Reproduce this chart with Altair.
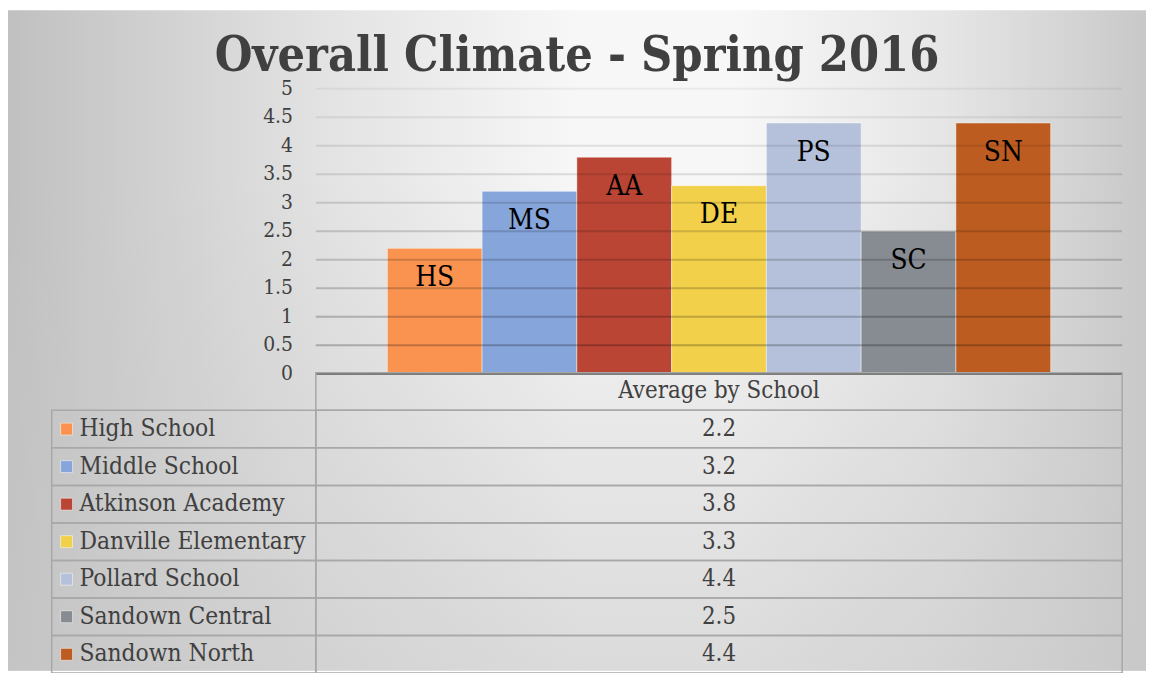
import altair as alt
import pandas as pd

# ---------------- data ----------------
schools = ["High School", "Middle School", "Atkinson Academy", "Danville Elementary",
           "Pollard School", "Sandown Central", "Sandown North"]
abbrev = ["HS", "MS", "AA", "DE", "PS", "SC", "SN"]
values = [2.2, 3.2, 3.8, 3.3, 4.4, 2.5, 4.4]
colors = ["#F9934F", "#86A5DB", "#BA4535", "#F2D04A", "#B5C1DB", "#878B92", "#BD5C20"]
y_ticks = [0, 0.5, 1, 1.5, 2, 2.5, 3, 3.5, 4, 4.5, 5]
series_name = "Average by School"
title_text = "Overall Climate - Spring 2016"

FONT = "DejaVu Serif Condensed, DejaVu Serif"
TXT = "#404040"

W, H = 1146, 586
PAD_TOP = 79

df = pd.DataFrame({"school": schools, "abbr": abbrev, "value": values})
df["label"] = [f"{v:g}" for v in values]
rows = [series_name] + schools
table_df = pd.DataFrame({"row": rows, "cell": [series_name] + list(df["label"])})
tick_df = pd.DataFrame({"tick": y_ticks, "tlabel": [f"{t:g}" for t in y_ticks]})
grid_df = tick_df[tick_df["tick"] > 0]
base_df = tick_df[tick_df["tick"] == 0]

# ---------------- scales ----------------
x_bar = alt.Scale(domain=schools, range=[382, 1050], paddingInner=0, paddingOuter=0, round=False)
y_val = alt.Scale(domain=[0, 5], range=[287, 0])
y_row = alt.Scale(domain=rows, range=[286, 286 + 8 * 37.8], paddingInner=0, paddingOuter=0,
                  round=False)
col_scale = alt.Scale(domain=schools, range=colors)

# ---------------- background ----------------
bg_df = pd.DataFrame({"k": [0]})
bg = alt.Chart(bg_df).mark_rect(
    fill=alt.Gradient(
        gradient="linear", x1=0, x2=1, y1=0, y2=0,
        stops=[alt.GradientStop(offset=0, color="#C0C0C0"),
               alt.GradientStop(offset=0.1, color="#CDCDCD"),
               alt.GradientStop(offset=0.28, color="#E3E3E3"),
               alt.GradientStop(offset=0.5, color="#F7F7F7"),
               alt.GradientStop(offset=0.64, color="#F7F7F7"),
               alt.GradientStop(offset=0.82, color="#E6E6E6"),
               alt.GradientStop(offset=0.94, color="#D3D3D3"),
               alt.GradientStop(offset=1, color="#C8C8C8")])
).encode(x=alt.value(0), x2=alt.value(W), y=alt.value(-PAD_TOP), y2=alt.value(H))

shade = alt.Chart(bg_df).mark_rect(
    fill=alt.Gradient(
        gradient="linear", x1=0, x2=0, y1=0, y2=1,
        stops=[alt.GradientStop(offset=0, color="rgba(200,200,200,0)"),
               alt.GradientStop(offset=0.25, color="rgba(200,200,200,0)"),
               alt.GradientStop(offset=1, color="rgba(200,200,200,0.6)")])
).encode(x=alt.value(0), x2=alt.value(W), y=alt.value(-PAD_TOP), y2=alt.value(H))

# ---------------- bar part ----------------
bars = alt.Chart(df).mark_bar(stroke="white", strokeOpacity=0.45, strokeWidth=1).encode(
    x=alt.X("school:N", scale=x_bar, axis=None),
    y=alt.Y("value:Q", scale=y_val, axis=None),
    color=alt.Color("school:N", scale=col_scale, legend=None),
)

grid = alt.Chart(grid_df).mark_rule(color="black", strokeWidth=2).encode(
    x=alt.value(310), x2=alt.value(1122),
    y=alt.Y("tick:Q", scale=y_val, axis=None),
    opacity=alt.Opacity("tick:Q", scale=alt.Scale(domain=[0.5, 5], range=[0.24, 0.05]),
                        legend=None),
)

baseline = alt.Chart(base_df).mark_rule(color="#5A5A5A", strokeWidth=2).encode(
    x=alt.value(310), x2=alt.value(1122),
    y=alt.Y("tick:Q", scale=y_val, axis=None),
)

tick_labels = alt.Chart(tick_df).mark_text(align="right", baseline="middle", font=FONT,
                                           fontSize=21, color=TXT).encode(
    x=alt.value(287),
    y=alt.Y("tick:Q", scale=y_val, axis=None),
    text="tlabel:N",
)

labels = alt.Chart(df).mark_text(dy=30, font=FONT, fontSize=28, color="black").encode(
    x=alt.X("school:N", scale=x_bar, axis=None),
    y=alt.Y("value:Q", scale=y_val, axis=None),
    text="abbr:N",
)

top = alt.layer(bars, grid, baseline, tick_labels, labels)

# ---------------- data table ----------------
right_cells = alt.Chart(table_df).mark_rect(filled=False, stroke="#A8A8A8", strokeWidth=1.5).encode(
    x=alt.value(310), x2=alt.value(1122),
    y=alt.Y("row:N", scale=y_row, axis=None),
)
left_cells = alt.Chart(df).mark_rect(filled=False, stroke="#A8A8A8", strokeWidth=1.5).encode(
    x=alt.value(44), x2=alt.value(310),
    y=alt.Y("school:N", scale=y_row, axis=None),
)
swatches = alt.Chart(df).mark_square(size=144, opacity=1, stroke="white", strokeOpacity=0.5,
                                     strokeWidth=1).encode(
    x=alt.value(59),
    y=alt.Y("school:N", scale=y_row, axis=None),
    color=alt.Color("school:N", scale=col_scale, legend=None),
)
left_text = alt.Chart(df).mark_text(align="left", baseline="middle", font=FONT, fontSize=24.5,
                                    color=TXT).encode(
    x=alt.value(72),
    y=alt.Y("school:N", scale=y_row, axis=None),
    text="school:N",
)
right_text = alt.Chart(table_df).mark_text(align="center", baseline="middle", font=FONT,
                                           fontSize=24, color=TXT).encode(
    x=alt.value(716),
    y=alt.Y("row:N", scale=y_row, axis=None),
    text="cell:N",
)

table = alt.layer(right_cells, left_cells, swatches, left_text, right_text)

chart = alt.layer(bg, shade, top, table).resolve_scale(y="independent").properties(
    width=W, height=H,
    padding={"left": 0, "top": PAD_TOP, "right": 0, "bottom": 0},
    autosize=alt.AutoSizeParams(type="none"),
    title=alt.Title(text=title_text, font=FONT, fontSize=48.5, fontWeight="bold", color=TXT,
                    anchor="middle", baseline="alphabetic", offset=-110),
).configure_view(stroke=None)

chart.save("out.html", embed_options={"renderer": "svg", "actions": False})
